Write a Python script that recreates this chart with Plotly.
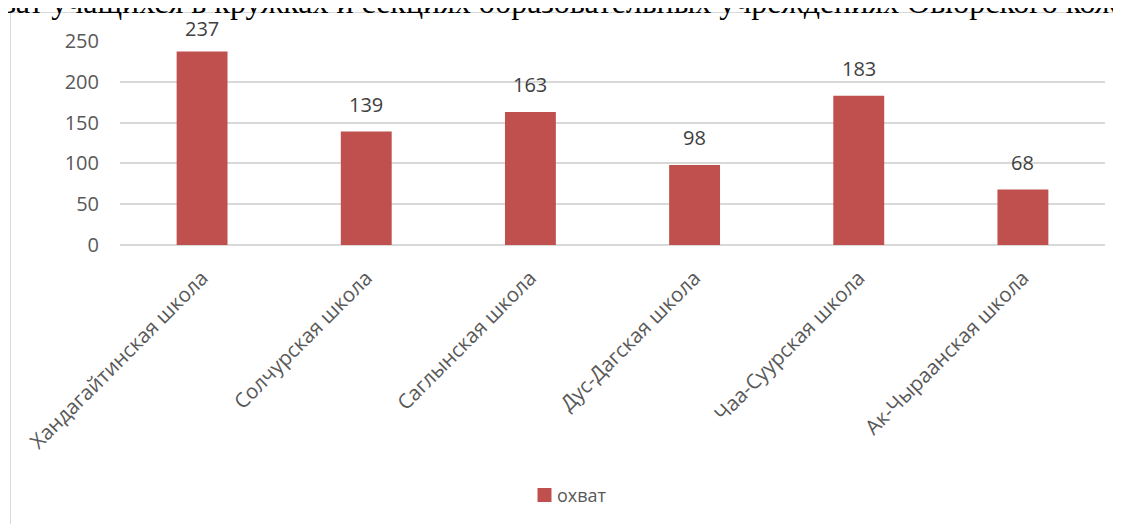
import plotly.graph_objects as go

categories = ["Хандагайтинская школа", "Солчурская школа", "Саглынская школа",
              "Дус-Дагская школа", "Чаа-Суурская школа", "Ак-Чыраанская школа"]
values = [237, 139, 163, 98, 183, 68]
series_name = "охват"
title_text = "Охват учащихся в кружках и секциях образовательных учреждениях Овюрского кожууна"
y_ticks = [0, 50, 100, 150, 200, 250]

BODY = 8  # default page margin
W, H = 1121 - BODY, 524 - BODY
# plot area in page pixels
PL, PR, PT, PB = 120, 1105, 41, 245
L = PL - BODY
R = W - (PR - BODY)
T = PT - BODY
B = H - (PB - BODY)
pw = W - L - R
ph = H - T - B
YMAX = 250

def px_x(px):  # page px -> paper
    return (px - BODY - L) / pw

def px_y(py):
    return (PB - py) / ph

font_family = "Open Sans, Noto Sans, sans-serif"
bar_color = "#C0504D"

fig = go.Figure()
fig.add_trace(go.Bar(
    x=categories, y=values, name=series_name,
    marker=dict(color=bar_color, line=dict(width=0)),
    showlegend=False,
))

# data labels: fixed gap above bars, kept inside the chart frame near the top
label_gap = 12
top_limit_px = 38  # lowest allowed page-y for label bottom edge
label_annotations = []
for c, v in zip(categories, values):
    bar_top_px = PB - v / YMAX * ph
    shift = min(label_gap, bar_top_px - 5.5 - top_limit_px)
    label_annotations.append(dict(
        x=c, y=v, xref="x", yref="y", text=str(v), showarrow=False,
        yanchor="bottom", yshift=shift,
        font=dict(family=font_family, size=20, color="#404040")))

fig.update_layout(
    width=W, height=H,
    margin=dict(l=L, r=R, t=T, b=B, autoexpand=False),
    paper_bgcolor="white", plot_bgcolor="white",
    bargap=0.69,
    font=dict(family=font_family, size=20, color="#595959"),
    showlegend=False,
    xaxis=dict(tickangle=-45, showgrid=False, showline=False, ticks="",
               ticklabelstandoff=16,
               tickfont=dict(family=font_family, size=20.5, color="#595959")),
    yaxis=dict(range=[0, YMAX], tickvals=y_ticks, showgrid=True,
               gridcolor="#D9D9D9", gridwidth=1.5, zeroline=True,
               zerolinecolor="#D9D9D9", zerolinewidth=1.5,
               ticks="", ticklabelstandoff=20,
               tickfont=dict(family=font_family, size=20, color="#595959")),
    shapes=[
        dict(type="rect", xref="paper", yref="paper",
             x0=px_x(10.5), x1=px_x(1200), y0=px_y(600), y1=px_y(12.5),
             line=dict(color="#D9D9D9", width=1), fillcolor="rgba(0,0,0,0)",
             layer="below"),
        dict(type="rect", xref="paper", yref="paper",
             x0=px_x(537.5), x1=px_x(551.5), y0=px_y(502), y1=px_y(488),
             line=dict(width=0), fillcolor=bar_color),
    ],
    annotations=label_annotations + [
        dict(text=title_text, xref="paper", yref="paper",
             x=px_x(-40), xanchor="left", y=px_y(1.5), yanchor="middle",
             showarrow=False,
             font=dict(family="Liberation Serif, Times New Roman, serif",
                       size=32, color="#000000")),
        dict(text=series_name, xref="paper", yref="paper",
             x=px_x(555), xanchor="left", y=px_y(495), yanchor="middle",
             showarrow=False,
             font=dict(family=font_family, size=18, color="#595959")),
    ],
)

fig.write_html("out.html")
